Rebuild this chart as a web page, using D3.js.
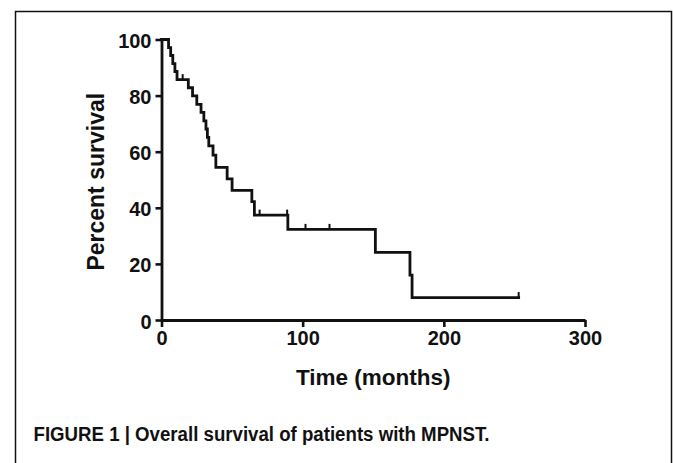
<!DOCTYPE html>
<html>
<head>
<meta charset="utf-8">
<script src="https://cdn.jsdelivr.net/npm/d3@7"></script>
<style>
  body { margin: 0; background: #fff; }
  svg { display: block; }
</style>
</head>
<body>
<svg id="chart" width="673" height="463"></svg>
<script>
// Kaplan-Meier steps (months, percent surviving after the step)
var stepTimes = [0, 5, 6.5, 8, 9.5, 11, 19, 22, 25, 28, 30, 31.5, 32.5, 33.5, 36.5, 38.5, 46.5, 50, 64, 65.8, 89.5, 151.5, 176, 177.5];
var stepPct   = [100, 97.1, 94.3, 91.4, 88.6, 85.7, 82.8, 79.9, 76.9, 74.0, 71.0, 68.1, 65.1, 62.1, 58.8, 54.4, 50.3, 46.2, 42.2, 37.4, 32.3, 24.1, 16.0, 8.0];
var lastTime = 253;

// censored observations
var censorTimes = [15, 69.5, 89, 102, 119, 253];
var censorPct   = [85.7, 37.4, 37.4, 32.3, 32.3, 8.0];

var xTicks = [0, 100, 200, 300];
var yTicks = [0, 20, 40, 60, 80, 100];

var svg = d3.select('#chart');

// frame
svg.append("rect")
    .attr("x", 15.5).attr("y", 11.5)
    .attr("width", 656).attr("height", 480)
    .attr("fill", "none").attr("stroke", "#111").attr("stroke-width", 1.5);

var x = d3.scaleLinear().domain([0, 300]).range([161.5, 585]);
var y = d3.scaleLinear().domain([0, 100]).range([320, 39.5]);

var font = "Arial, 'Liberation Sans', Helvetica, sans-serif";

var xAxis = d3.axisBottom(x).tickValues(xTicks).tickSize(7).tickPadding(4).tickSizeOuter(0);
var yAxis = d3.axisLeft(y).tickValues(yTicks).tickSize(6).tickPadding(4).tickSizeOuter(0);

var gx = svg.append("g")
    .attr("transform", "translate(0," + y(0) + ")")
    .call(xAxis);
var gy = svg.append("g")
    .attr("transform", "translate(" + x(0) + ",0)")
    .call(yAxis);

[gx, gy].forEach(function (g) {
    g.select(".domain").attr("stroke", "#111").attr("stroke-width", 2.8);
    g.selectAll(".tick line").attr("stroke", "#111").attr("stroke-width", 2.6);
    g.selectAll(".tick text")
        .attr("fill", "#111")
        .style("font-family", font)
        .style("font-weight", "bold")
        .style("font-size", "20px");
});
gx.selectAll(".tick text").attr("dy", "0.7em");
gy.selectAll(".tick text").attr("dy", "0.4em");

// survival curve
var pts = stepTimes.map(function (t, i) { return [t, stepPct[i]]; });
pts.push([lastTime, stepPct[stepPct.length - 1]]);

var line = d3.line()
    .x(function (d) { return x(d[0]); })
    .y(function (d) { return y(d[1]); })
    .curve(d3.curveStepAfter);

svg.append("path")
    .datum(pts)
    .attr("d", line)
    .attr("fill", "none")
    .attr("stroke", "#111")
    .attr("stroke-width", 2.8)
    .attr("stroke-linejoin", "miter")
    .attr("stroke-linecap", "square");

// censor ticks
svg.append("g").selectAll("line")
    .data(censorTimes)
    .enter().append("line")
    .attr("x1", function (d) { return x(d); })
    .attr("x2", function (d) { return x(d); })
    .attr("y1", function (d, i) { return y(censorPct[i]); })
    .attr("y2", function (d, i) { return y(censorPct[i]) - 5.5; })
    .attr("stroke", "#111")
    .attr("stroke-width", 2);

// axis titles
svg.append("text")
    .attr("x", (x(0) + x(300)) / 2)
    .attr("y", 385)
    .attr("text-anchor", "middle")
    .style("font-family", font)
    .style("font-weight", "bold")
    .style("font-size", "22.5px")
    .attr("fill", "#111")
    .text("Time (months)");

svg.append("text")
    .attr("transform", "translate(104," + ((y(0) + y(100)) / 2 + 2) + "), rotate(-90)")
    .attr("text-anchor", "middle")
    .style("font-family", font)
    .style("font-weight", "bold")
    .style("font-size", "23px")
    .attr("fill", "#111")
    .text("Percent survival");

// caption
svg.append("text")
    .attr("x", 33.5)
    .attr("y", 441)
    .attr("textLength", 456)
    .attr("lengthAdjust", "spacingAndGlyphs")
    .style("font-family", "'Liberation Sans Narrow', 'Arial Narrow', Arial, sans-serif")
    .style("font-size", "20px")
    .style("font-weight", "bold")
    .attr("fill", "#111")
    .text("FIGURE 1 | Overall survival of patients with MPNST.");
</script>
</body>
</html>
